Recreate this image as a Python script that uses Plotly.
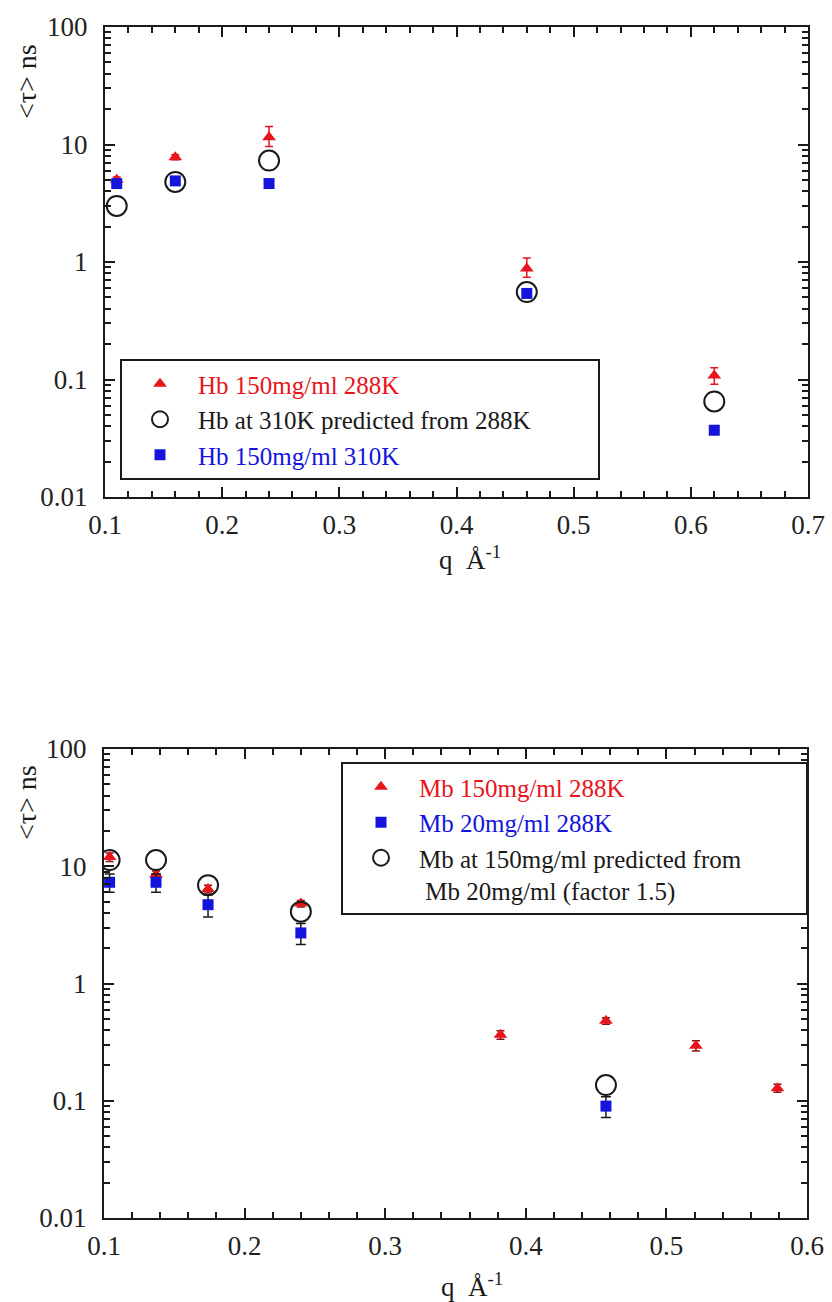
import plotly.graph_objects as go

# ---------------- data ----------------
# Top panel: haemoglobin
hb_q = [0.11, 0.16, 0.24, 0.46, 0.62]
hb288 = [5.0, 7.8, 11.5, 0.88, 0.108]
hb288_err_plus = [0.3, 0.4, 2.7, 0.2, 0.018]
hb288_err_minus = [0.3, 0.4, 1.9, 0.14, 0.017]
hb310_pred = [3.0, 4.8, 7.3, 0.555, 0.065]
hb310 = [4.65, 4.9, 4.65, 0.54, 0.037]

# Bottom panel: myoglobin
mb150_q = [0.104, 0.137, 0.174, 0.240, 0.382, 0.457, 0.521, 0.579]
mb150 = [12.0, 8.5, 6.4, 4.8, 0.365, 0.48, 0.295, 0.128]
mb150_err = [1.0, 0.6, 0.5, 0.3, 0.03, 0.03, 0.03, 0.01]
mb20_q = [0.104, 0.137, 0.174, 0.240, 0.457]
mb20 = [7.3, 7.3, 4.7, 2.7, 0.090]
mb20_err = [1.3, 1.3, 1.0, 0.55, 0.018]
mbpred_q = [0.104, 0.137, 0.174, 0.240, 0.457]
mbpred = [11.3, 11.3, 6.9, 4.1, 0.136]

RED = "#e8141c"
BLUE = "#1414dc"
BLACK = "#1a1a1a"
FONT = "Liberation Serif, Times New Roman, serif"

W, H = 832, 1302

fig = go.Figure()

# top panel
fig.add_trace(go.Scatter(
    x=hb_q, y=hb288, mode="markers", xaxis="x", yaxis="y", legend="legend",
    name=f"<span style='color:{RED}'>Hb 150mg/ml 288K</span>",
    marker=dict(symbol="triangle-up", size=12, color=RED),
    error_y=dict(type="data", symmetric=False, array=hb288_err_plus,
                 arrayminus=hb288_err_minus, color=RED, thickness=1.5, width=4)))
fig.add_trace(go.Scatter(
    x=hb_q, y=hb310_pred, mode="markers", xaxis="x", yaxis="y", legend="legend",
    name="Hb at 310K predicted from 288K",
    marker=dict(symbol="circle-open", size=20, color=BLACK, line=dict(width=2, color=BLACK))))
fig.add_trace(go.Scatter(
    x=hb_q, y=hb310, mode="markers", xaxis="x", yaxis="y", legend="legend",
    name=f"<span style='color:{BLUE}'>Hb 150mg/ml 310K</span>",
    marker=dict(symbol="square", size=11, color=BLUE)))

# bottom panel
fig.add_trace(go.Scatter(
    x=mb150_q, y=mb150, mode="markers", xaxis="x2", yaxis="y2", legend="legend2",
    name=f"<span style='color:{RED}'>Mb 150mg/ml 288K</span>",
    marker=dict(symbol="triangle-up", size=12, color=RED),
    error_y=dict(type="data", array=mb150_err, color="#8a1010", thickness=1.5, width=4)))
fig.add_trace(go.Scatter(
    x=mb20_q, y=mb20, mode="markers", xaxis="x2", yaxis="y2", legend="legend2",
    name=f"<span style='color:{BLUE}'>Mb 20mg/ml 288K</span>",
    marker=dict(symbol="square", size=11, color=BLUE),
    error_y=dict(type="data", array=mb20_err, color=BLACK, thickness=1.5, width=5)))
fig.add_trace(go.Scatter(
    x=mbpred_q, y=mbpred, mode="markers", xaxis="x2", yaxis="y2", legend="legend2",
    name="Mb at 150mg/ml predicted from<br>\u00a0Mb 20mg/ml (factor 1.5)",
    marker=dict(symbol="circle-open", size=20, color=BLACK, line=dict(width=2, color=BLACK))))


def xax(domain, rng, anchor):
    return dict(domain=domain, range=rng, anchor=anchor, dtick=0.1, tick0=0.1,
                automargin=False,
                ticks="inside", ticklen=10, tickwidth=2, tickcolor=BLACK,
                showline=True, linewidth=2, linecolor=BLACK, mirror="allticks",
                showgrid=False, zeroline=False, tickformat=".1f", ticklabelstandoff=3,
                tickfont=dict(family=FONT, size=27, color="#222"),
                minor=dict(ticks="inside", ticklen=6, tickwidth=1.5, tickcolor=BLACK,
                           dtick=0.02, showgrid=False))


def yax(domain, anchor):
    return dict(domain=domain, type="log", range=[-2, 2], anchor=anchor, dtick=1,
                automargin=False,
                ticks="inside", ticklen=10, tickwidth=2, tickcolor=BLACK,
                showline=True, linewidth=2, linecolor=BLACK, mirror="allticks",
                showgrid=False, zeroline=False, ticklabelstandoff=10,
                tickfont=dict(family=FONT, size=27, color="#222"),
                minor=dict(ticks="inside", ticklen=6, tickwidth=1.5, tickcolor=BLACK,
                           dtick="D1", showgrid=False))


fig.update_layout(
    width=W, height=H,
    margin=dict(l=0, r=0, t=0, b=0, autoexpand=False),
    paper_bgcolor="white", plot_bgcolor="white",
    font=dict(family=FONT, color=BLACK),
    xaxis=xax([105 / W, 808 / W], [0.1, 0.7], "y"),
    yaxis=yax([1 - 497 / H, 1 - 27 / H], "x"),
    xaxis2=xax([104 / W, 807 / W], [0.1, 0.6], "y2"),
    yaxis2=yax([1 - 1218 / H, 1 - 749 / H], "x2"),
    legend=dict(x=120 / W, y=1 - 359 / H, xanchor="left", yanchor="top",
                orientation="h", entrywidth=395, entrywidthmode="pixels",
                bgcolor="white", bordercolor=BLACK, borderwidth=2, itemwidth=66,
                font=dict(family=FONT, size=25, color=BLACK)),
    legend2=dict(x=341 / W, y=1 - 762 / H, xanchor="left", yanchor="top",
                 orientation="h", entrywidth=382, entrywidthmode="pixels",
                 bgcolor="white", bordercolor=BLACK, borderwidth=2, valign="top",
                 itemwidth=66,
                 font=dict(family=FONT, size=25, color=BLACK)),
    showlegend=True,
)

# axis titles
for cy in (82, 803):
    fig.add_annotation(text="&lt;τ&gt; ns", x=26 / W, y=1 - cy / H, xref="paper", yref="paper",
                       xanchor="center", yanchor="middle",
                       textangle=-90, showarrow=False,
                       font=dict(family=FONT, size=28, color=BLACK))
for cx, cy in ((470, 558), (472, 1285)):
    fig.add_annotation(text="q  Å<sup>-1</sup>", x=cx / W, y=1 - cy / H, xref="paper", yref="paper",
                       xanchor="center", yanchor="middle",
                       showarrow=False, font=dict(family=FONT, size=27, color=BLACK))

fig.write_html("out.html")
